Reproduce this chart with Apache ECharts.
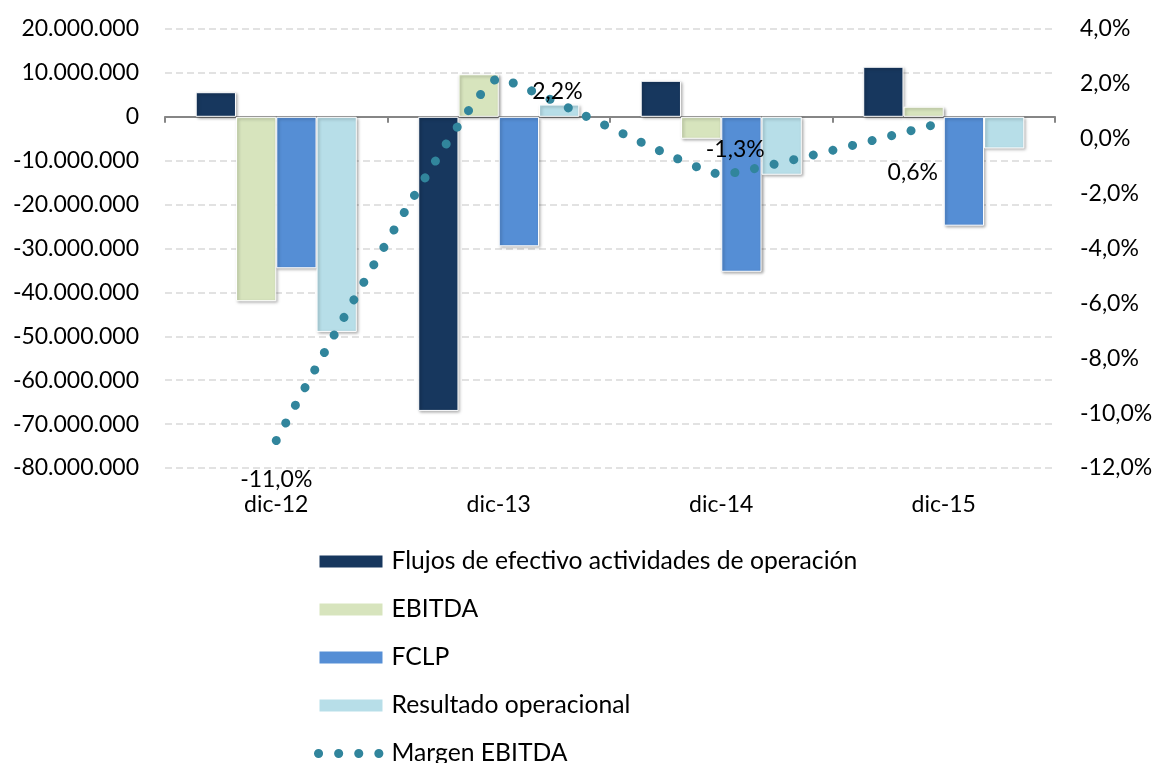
<!DOCTYPE html>
<html>
<head>
<meta charset="utf-8">
<script src="https://cdn.jsdelivr.net/npm/echarts@6/dist/echarts.min.js"></script>
<style>
  html, body { margin: 0; padding: 0; background: #fff; }
  #chart { width: 1156px; height: 763px; }
</style>
</head>
<body>
<div id="chart"></div>
<script>
var categories = ['dic-12', 'dic-13', 'dic-14', 'dic-15'];
var flujos = [5600000, -67000000, 8200000, 11400000];
var ebitda = [-42000000, 9700000, -5000000, 2300000];
var fclp = [-34500000, -29500000, -35300000, -24800000];
var resultado = [-49000000, 2800000, -13200000, -7200000];
var margen = [-11.0, 2.2, -1.3, 0.6];

var leftTicks = { min: -80000000, max: 20000000, interval: 10000000 };
var rightTicks = { min: -12, max: 4, interval: 2 };

var FONT = 'Lato';

function miles(v) {
    var s = String(Math.abs(Math.round(v))).replace(/\B(?=(\d{3})+(?!\d))/g, '.');
    return (v < 0 ? '-' : '') + s;
}
function pct(v) {
    return v.toFixed(1).replace('.', ',') + '%';
}

var barStyle = function (color) {
    return {
        color: color,
        borderColor: '#ffffff',
        borderWidth: 1,
        shadowColor: 'rgba(0,0,0,0.35)',
        shadowBlur: 3,
        shadowOffsetX: 1.5,
        shadowOffsetY: 1.5
    };
};

var dotLine = { color: '#31859C', width: 9, type: [0.1, 20], cap: 'round' };

// label placement per point, as in the original
var labelPos = [
    { position: 'bottom', distance: 27, offset: [0, 0] },
    { position: 'right', distance: 33, offset: [0, 13] },
    { position: 'top', distance: 13, offset: [14, 0] },
    { position: 'bottom', distance: 38, offset: [-31, 0] }
];

var chart = echarts.init(document.getElementById('chart'));

var option = {
    animation: false,
    textStyle: { fontFamily: FONT },
    grid: { left: 165, right: 101, top: 29, bottom: 295, containLabel: false },
    legend: {
        orient: 'vertical',
        left: 314,
        top: 549,
        height: 240,
        padding: 0,
        itemWidth: 65,
        itemHeight: 14,
        itemGap: 23,
        textStyle: { fontFamily: FONT, fontSize: 24.7, color: '#000', lineHeight: 24, padding: [0, 0, 0, 3] },
        data: [
            { name: 'Flujos de efectivo actividades de operación', icon: 'rect' },
            { name: 'EBITDA', icon: 'rect' },
            { name: 'FCLP', icon: 'rect' },
            { name: 'Resultado operacional', icon: 'rect' },
            { name: 'Margen EBITDA', lineStyle: dotLine, itemStyle: { color: 'rgba(0,0,0,0)', borderWidth: 0 } }
        ]
    },
    xAxis: [
        {
            type: 'category',
            data: categories,
            axisLine: { onZero: true, onZeroAxisIndex: 0, lineStyle: { color: '#868686', width: 2 } },
            axisTick: { show: true, length: 6, lineStyle: { color: '#868686', width: 2 } },
            axisLabel: { show: false }
        },
        {
            type: 'category',
            data: categories,
            position: 'bottom',
            axisLine: { show: false, onZero: false },
            axisTick: { show: false },
            axisLabel: { color: '#000', fontSize: 23, fontFamily: FONT, margin: 25 }
        }
    ],
    yAxis: [
        {
            type: 'value',
            min: leftTicks.min,
            max: leftTicks.max,
            interval: leftTicks.interval,
            axisLine: { show: false },
            axisTick: { show: false },
            splitLine: { lineStyle: { color: '#d9d9d9', type: [7, 4], width: 1.5 } },
            axisLabel: { color: '#000', fontSize: 23, fontFamily: FONT, margin: 26, formatter: miles }
        },
        {
            type: 'value',
            min: rightTicks.min,
            max: rightTicks.max,
            interval: rightTicks.interval,
            axisLine: { show: false },
            axisTick: { show: false },
            splitLine: { show: false },
            axisLabel: { color: '#000', fontSize: 23, fontFamily: FONT, margin: 25, formatter: pct }
        }
    ],
    series: [
        {
            name: 'Flujos de efectivo actividades de operación',
            type: 'bar',
            barGap: '0%',
            barCategoryGap: '27.6%',
            itemStyle: barStyle('#17375E'),
            data: flujos
        },
        {
            name: 'EBITDA',
            type: 'bar',
            itemStyle: barStyle('#D7E4BD'),
            data: ebitda
        },
        {
            name: 'FCLP',
            type: 'bar',
            itemStyle: barStyle('#558ED5'),
            data: fclp
        },
        {
            name: 'Resultado operacional',
            type: 'bar',
            itemStyle: barStyle('#B7DEE8'),
            data: resultado
        },
        {
            name: 'Margen EBITDA',
            type: 'line',
            yAxisIndex: 1,
            smooth: 0.1,
            symbol: 'circle',
            symbolSize: 1,
            showSymbol: true,
            z: 5,
            itemStyle: { color: 'rgba(0,0,0,0)', borderWidth: 0 },
            lineStyle: dotLine,
            label: {
                show: true,
                color: '#000',
                fontSize: 23,
                fontFamily: FONT,
                formatter: function (p) { return pct(p.value); }
            },
            data: margen.map(function (v, i) {
                return {
                    value: v,
                    label: {
                        position: labelPos[i].position,
                        distance: labelPos[i].distance,
                        offset: labelPos[i].offset
                    }
                };
            })
        }
    ]
};

chart.setOption(option);
</script>
</body>
</html>
